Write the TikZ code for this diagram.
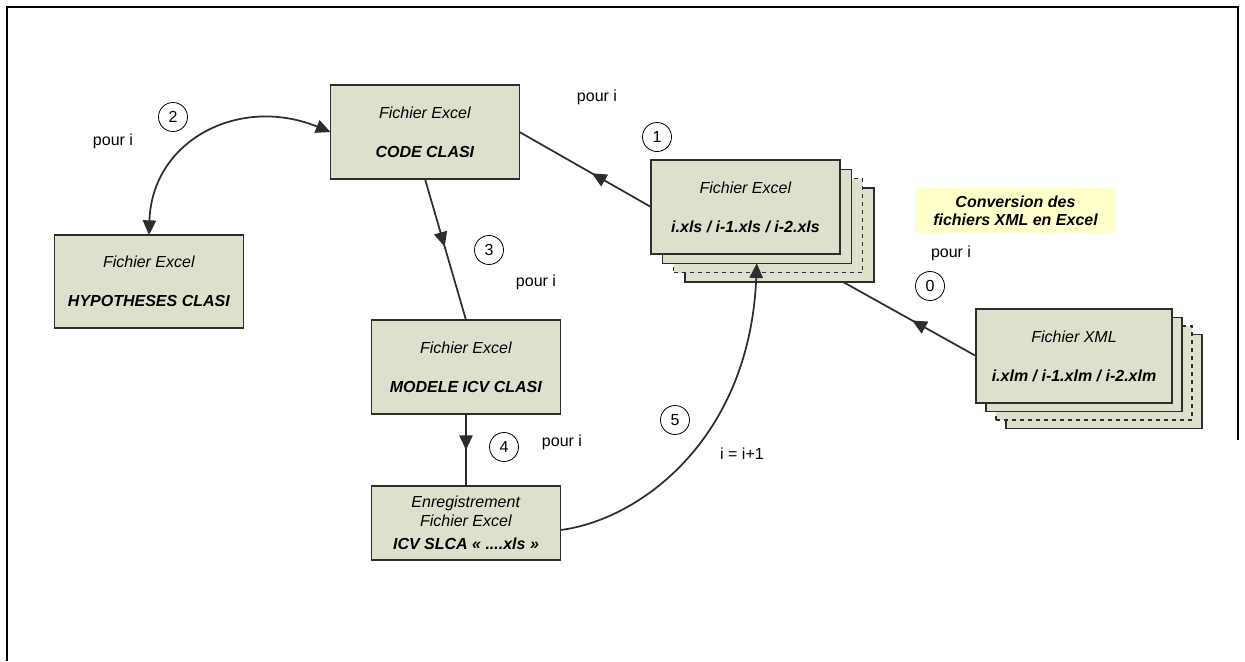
\documentclass[tikz,border=0pt]{standalone}
\usepackage{fontspec}
\setmainfont{Liberation Sans}
\usetikzlibrary{arrows.meta,calc,decorations.markings}
\definecolor{boxfill}{RGB}{221,224,204}
\definecolor{notefill}{RGB}{255,255,204}
\definecolor{linecol}{RGB}{45,45,45}
\newdimen\pxu \pxu=0.75pt
\newcommand{\fichier}[2]{\textit{#1}\\[15pt]\textbf{\textit{#2}}}

\begin{document}
\begin{tikzpicture}[x=0.75pt,y=-0.75pt,>={Triangle[length=11pt,width=10pt]},
  every node/.style={font=\fontsize{12}{14.4}\selectfont},
  filebox/.style={draw=linecol,line width=1pt,fill=boxfill,minimum width=189\pxu,minimum height=94\pxu,align=center,inner sep=2pt,outer sep=0pt},
  stepnum/.style={draw,circle,line width=0.6pt,minimum size=29\pxu,inner sep=0pt},
  link/.style={linecol,line width=1.3pt},
  midarrow/.style={postaction={decorate},decoration={markings,mark=at position #1 with {\arrow{>}}}}]
\useasboundingbox (0,0) rectangle (1245,661);
\draw[line width=0.8pt] (7,661) -- (7,7) -- (1238,7) -- (1238,440);

\node[filebox] (code) at (425,132) {\fichier{Fichier Excel}{CODE CLASI}};
\node[filebox,minimum height=93\pxu] (hyp) at (149,281.5) {\fichier{Fichier Excel}{HYPOTHESES CLASI}};
\node[filebox] (modele) at (466,367) {\fichier{Fichier Excel}{MODELE ICV CLASI}};
\node[filebox,minimum height=74\pxu] (enreg) at (466,523) {\textit{Enregistrement}\\\textit{Fichier Excel}\\[3pt]\textbf{\textit{ICV SLCA « ....xls »}}};

\foreach \k/\ls in {3/solid,2/dashed,1/solid}
  \node[filebox,\ls] (xls\k) at ($(745.5,207)+(\k*11.3,\k*9.3)$) {};
\node[filebox] (xls) at (745.5,207) {\fichier{Fichier Excel}{i.xls / i-1.xls / i-2.xls}};

\foreach \k/\ls in {3/solid,2/dashed,1/solid}
  \node[filebox,minimum width=196\pxu,\ls] (xml\k) at ($(1074,356)+(\k*10,\k*8.5)$) {};
\node[filebox,minimum width=196\pxu] (xml) at (1074,356) {\fichier{Fichier XML}{i.xlm / i-1.xlm / i-2.xlm}};

\node[fill=notefill,minimum width=201\pxu,minimum height=45\pxu,align=center,
  font=\fontsize{12}{13.5}\selectfont\bfseries\itshape] (conv) at (1015.5,210.5) {Conversion des\\fichiers XML en Excel};

\node[stepnum] (n0) at (930,286) {0};
\node[stepnum] (n1) at (657,137) {1};
\node[stepnum] (n2) at (173,117) {2};
\node[stepnum] (n3) at (489,250) {3};
\node[stepnum] (n4) at (504,447) {4};
\node[stepnum] (n5) at (675,420) {5};

\node (p0) at (951,253) {pour i};
\node (p1) at (597,97) {pour i};
\node (p2) at (113,141) {pour i};
\node (p3) at (536,282) {pour i};
\node (p4) at (562,442) {pour i};
\node (inc) at (742,454) {i = i+1};

\draw[link,midarrow=0.45] (xls.west) -- (code.east);
\draw[link,midarrow=0.48] (xml.west) -- ($(xls3.south east)+(-31,0)$);
\draw[link,midarrow=0.48] (code.south) -- (modele.north);
\draw[link,midarrow=0.5] (modele.south) -- (enreg.north);
\draw[link,<->] (hyp.north) .. controls +(3,-95) and +(-91,-37) .. (code.west);
\draw[link,->] ($(enreg.east)+(0,7)$) .. controls +(79,-10) and +(-7,176) .. (xls1.south);
\end{tikzpicture}
\end{document}
